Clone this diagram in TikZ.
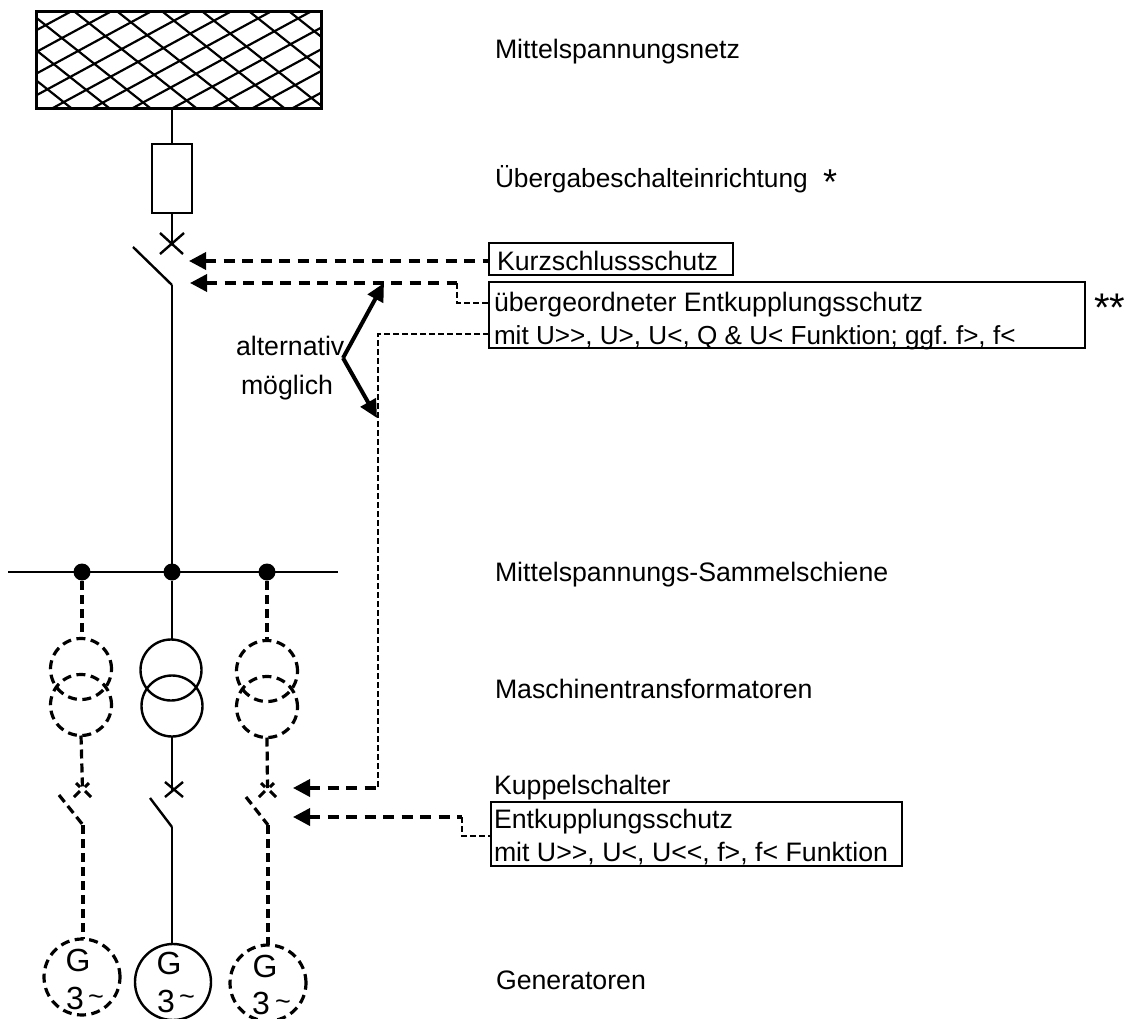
\documentclass[tikz,border=0pt]{standalone}
\usepackage{fontspec}
\setmainfont{Liberation Sans}
\usetikzlibrary{arrows.meta}
\tikzset{
  x=1pt,y=-1pt,
  every node/.style={outer sep=0pt},
  wire/.style={line width=2.4pt,line cap=butt},
  dwire/.style={line width=3.2pt,dash pattern=on 9pt off 5pt},
  xdash/.style={line width=3pt},
  ctrl/.style={line width=3.6pt,dash pattern=on 11pt off 7.5pt,{Triangle[length=17pt,width=17pt]}-},
  sig/.style={line width=2.5pt,dash pattern=on 6pt off 3pt},
  alt/.style={line width=4pt,-{Triangle[length=18pt,width=17pt]}},
  lab/.style={anchor=base west,inner sep=0pt,font=\fontsize{26.7}{26.7}\selectfont},
  gtxt/.style={inner sep=0pt,font=\fontsize{32}{32}\selectfont},
  tld/.style={inner sep=0pt,font=\fontsize{27}{27}\selectfont},
  box/.style={draw,line width=1.8pt,inner sep=0pt,anchor=north west},
  dotn/.style={circle,fill=black,inner sep=0pt,minimum size=17pt},
  xfm/.style={circle,draw,line width=2.4pt,inner sep=0pt,minimum size=61pt},
  dxfm/.style={circle,draw,line width=3.2pt,dash pattern=on 9pt off 5.5pt,inner sep=0pt,minimum size=61pt},
  gen/.style={circle,draw,line width=2.4pt,inner sep=0pt,minimum size=76pt},
  dgen/.style={circle,draw,line width=3.2pt,dash pattern=on 9pt off 5.5pt,inner sep=0pt,minimum size=76pt}
}
\begin{document}
\frenchspacing
\begin{tikzpicture}
\useasboundingbox (0,0) rectangle (1125,1019);
% network
\node[draw=none,inner sep=0pt,minimum width=285pt,minimum height=97pt,anchor=north west] (net) at (36,12) {};
\begin{scope}
\clip (36,12) rectangle (321,109);
\foreach \s in {-90,-50,-12,29,75,118,163,203,250,290}
  \draw[line width=2.2pt] (\s,12) -- ++(140,111);
\foreach \s in {0,40,80,120,160,200,240,280,320,360,400,440}
  \draw[line width=2.2pt] (\s+30,12) -- ++(-190,103);
\end{scope}
\draw[line width=3pt] (net.north west) rectangle (net.south east);
% fuse
\node[draw,line width=2.4pt,inner sep=0pt,minimum width=40pt,minimum height=69pt,anchor=north west] (fuse) at (152,144) {};
\coordinate (x0) at (172,244);
\coordinate (sw0a) at (133,247);
\coordinate (sw0b) at (172,285);
\draw[wire] (net.south -| fuse.north) -- (fuse.north);
\draw[wire] (fuse.south) -- (x0);
\draw[wire] (160,233) -- (183,254) (184,233) -- (160,254);
\draw[wire] (sw0a) -- (sw0b);
% busbar
\coordinate (busL) at (8,572);
\coordinate (busR) at (338,572);
\draw[wire] (busL) -- (busR);
\node[dotn] (dl) at (82,572) {};
\node[dotn] (dm) at (172,572) {};
\node[dotn] (dr) at (267,572) {};
\draw[wire] (sw0b) -- (dm);
% middle branch
\node[xfm] (tm1) at (171,670) {};
\node[xfm] (tm2) at (172,706) {};
\draw[wire] (dm) -- (dm |- tm1.north);
\coordinate (xm) at (172,790);
\draw[wire] (tm2.south) -- (xm);
\draw[wire] (165,782) -- (183,797) (183,782) -- (165,797);
\coordinate (swma) at (150,798);
\coordinate (swmb) at (172,827);
\draw[wire] (swma) -- (swmb);
\node[gen] (gm) at (173,982) {};
\draw[wire] (swmb) -- (swmb |- gm.north);
\node[gtxt] (gmg) at (169,963) {G};
\node[gtxt] (gm3) at (166,1001) {3};
\node[tld] (gmt) at (187,1000) {\char"007E};
% left branch
\node[dxfm] (tl1) at (81,669) {};
\node[dxfm] (tl2) at (81,705) {};
\draw[dwire] (dl) ++(0,9) -- (dl |- tl1.north);
\coordinate (xl) at (82.5,788);
\draw[dwire] (tl2.south) -- (xl);
\draw[xdash] (74,797) -- (80,791) (91,797) -- (85,791) (76,783) -- (80,787) (89,783) -- (85,787);
\coordinate (swla) at (59,795);
\coordinate (swlb) at (83,825);
\draw[dwire] (swla) -- (swlb);
\node[dgen] (gl) at (82,977) {};
\draw[dwire] (swlb) -- (swlb |- gl.north);
\node[gtxt] (glg) at (78,960) {G};
\node[gtxt] (gl3) at (75,998) {3};
\node[tld] (glt) at (96,1000) {\char"007E};
% right branch
\node[dxfm] (tr1) at (267,671) {};
\node[dxfm] (tr2) at (267,707) {};
\draw[dwire] (dr) ++(0,9) -- (tr1.north);
\coordinate (xr) at (267.5,788);
\draw[dwire] (tr2.south) -- (xr);
\draw[xdash] (259,797) -- (265,791) (276,797) -- (270,791) (261,783) -- (265,787) (274,783) -- (270,787);
\coordinate (swra) at (246,797);
\coordinate (swrb) at (268,825);
\draw[dwire] (swra) -- (swrb);
\node[dgen] (gr) at (268,983) {};
\draw[dwire] (swrb) -- (gr.north);
\node[gtxt] (grg) at (265,966) {G};
\node[gtxt] (gr3) at (261,1003) {3};
\node[tld] (grt) at (283,1005) {\char"007E};
% boxes
\node[box,minimum width=244pt,minimum height=32pt] (kbox) at (489,243) {};
\node[box,minimum width=596pt,minimum height=66pt] (ubox) at (489,282) {};
\node[box,minimum width=411pt,minimum height=64pt] (ebox) at (491,802) {};
% labels
\node[lab] (l1) at (495,59) {Mittelspannungsnetz};
\node[lab,font=\fontsize{26.3}{26.3}\selectfont] (l2) at (495,188) {Übergabeschalteinrichtung};
\node[lab,font=\fontsize{36}{36}\selectfont] (st1) at (823,195) {*};
\node[lab] (l3) at (497,271) {Kurzschlussschutz};
\node[lab] (l4) at (494,311) {übergeordneter Entkupplungsschutz};
\node[lab,font=\fontsize{26.1}{26.1}\selectfont] (l5) at (494,344) {mit U>{}>, U>, U<, Q \& U< Funktion; ggf. f>, f<};
\node[lab,font=\fontsize{40}{40}\selectfont] (st2) at (1094,321) {**};
\node[lab] (l6) at (236,355) {alternativ};
\node[lab] (l7) at (241,394) {möglich};
\node[lab] (l8) at (495,581) {Mittelspannungs-Sammelschiene};
\node[lab] (l9) at (495,698) {Maschinentransformatoren};
\node[lab] (l10) at (494,794) {Kuppelschalter};
\node[lab] (l11) at (494,828) {Entkupplungsschutz};
\node[lab] (l12) at (494,861) {mit U>{}>, U<, U<{}<, f>, f< Funktion};
\node[lab] (l13) at (496,989) {Generatoren};
% control connectors
\coordinate (a1) at (189,261);
\coordinate (a2) at (190,283);
\coordinate (a2e) at (457,283);
\coordinate (a3) at (293,788);
\coordinate (a3c) at (378,788);
\coordinate (a4) at (293,817);
\coordinate (a4e) at (462,817);
\draw[ctrl] (a1) -- (kbox.west |- a1);
\draw[ctrl] (a2) -- (a2e);
\draw[sig] (a2e) -- (a2e |- 0,303) -- (ubox.west |- 0,303);
\draw[sig] (ubox.west |- 0,334) -- (378,334) -- (a3c);
\draw[ctrl] (a3) -- (a3c);
\draw[ctrl] (a4) -- (a4e);
\draw[sig] (a4e) -- (a4e |- 0,836) -- (ebox.west |- 0,836);
% alternative arrows
\coordinate (vtx) at (343,358);
\coordinate (va) at (384,283);
\coordinate (vb) at (377,418);
\draw[alt] (vtx) -- (va);
\draw[alt] (vtx) -- (vb);
\end{tikzpicture}
\end{document}
